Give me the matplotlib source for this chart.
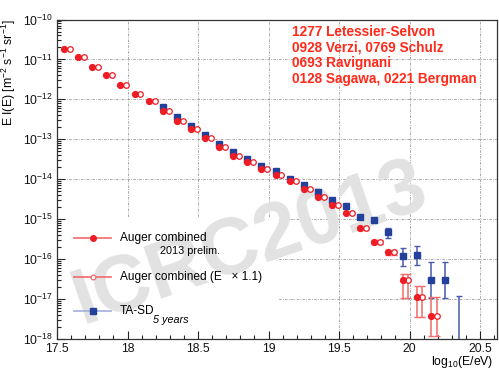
import numpy as np
import matplotlib
matplotlib.use("Agg")
import matplotlib.pyplot as plt
from matplotlib.ticker import MultipleLocator, LogLocator, NullFormatter, LogFormatterSciNotation
from matplotlib.patches import Rectangle

plt.rcParams['font.family'] = ['Liberation Sans', 'DejaVu Sans']
plt.rcParams['mathtext.fontset'] = 'custom'
plt.rcParams['mathtext.rm'] = 'Liberation Sans'
plt.rcParams['mathtext.it'] = 'Liberation Sans:italic'
plt.rcParams['mathtext.default'] = 'regular'

# Auger combined spectrum (2013 preliminary)
auger_logE = [17.55, 17.65, 17.75, 17.85, 17.95, 18.05, 18.15, 18.25, 18.35,
              18.45, 18.55, 18.65, 18.75, 18.85, 18.95, 19.05, 19.15, 19.25,
              19.35, 19.45, 19.55, 19.65, 19.75, 19.85, 19.95, 20.05, 20.15]
auger_flux = [1.86e-11, 1.16e-11, 6.6e-12, 4.0e-12, 2.35e-12, 1.35e-12, 9.3e-13,
              5.0e-13, 2.9e-13, 1.86e-13, 1.10e-13, 6.6e-14, 3.9e-14, 2.7e-14,
              1.8e-14, 1.3e-14, 8.9e-15, 5.8e-15, 3.6e-15, 2.3e-15, 1.4e-15,
              6.0e-16, 2.75e-16, 1.5e-16, 3.0e-17, 1.15e-17, 3.8e-18]
# error bars of the highest-energy bins
auger_err_logE = [19.65, 19.75, 19.85, 19.95, 20.05, 20.15]
auger_err_flux = [6.0e-16, 2.75e-16, 1.5e-16, 3.0e-17, 1.15e-17, 3.8e-18]
auger_err_lo = [5.5e-16, 2.45e-16, 1.28e-16, 1.05e-17, 3.5e-18, 1.2e-18]
auger_err_hi = [6.5e-16, 3.05e-16, 1.72e-16, 4.3e-17, 2.1e-17, 1.12e-17]
energy_scale = 1.1

# TA-SD 5 years
ta_logE = [18.25, 18.35, 18.45, 18.55, 18.65, 18.75, 18.85, 18.95, 19.05, 19.15,
           19.25, 19.35, 19.45, 19.55, 19.65, 19.75, 19.85, 19.95, 20.05, 20.15, 20.25]
ta_flux = [6.3e-13, 3.6e-13, 2.2e-13, 1.26e-13, 7.6e-14, 4.8e-14, 3.3e-14, 2.2e-14,
           1.65e-14, 1.02e-14, 7.1e-15, 4.7e-15, 3.1e-15, 2.15e-15, 1.12e-15, 9.3e-16,
           4.7e-16, 1.2e-16, 1.3e-16, 3.0e-17, 3.0e-17]
ta_err_logE = [19.65, 19.75, 19.85, 19.95, 20.05, 20.15, 20.25]
ta_err_flux = [1.12e-15, 9.3e-16, 4.7e-16, 1.2e-16, 1.3e-16, 3.0e-17, 3.0e-17]
ta_err_lo = [1.0e-15, 8.3e-16, 3.4e-16, 6.8e-17, 7.2e-17, 1.07e-17, 1.07e-17]
ta_err_hi = [1.24e-15, 1.04e-15, 6.0e-16, 1.95e-16, 2.1e-16, 8.3e-17, 8.3e-17]
# empty bin: only the upper end of the error bar
ta_ul_logE = [20.35]
ta_ul_hi = [1.17e-17]

contributions = ["1277 Letessier-Selvon", "0928 Verzi, 0769 Schulz",
                 "0693 Ravignani", "0128 Sagawa, 0221 Bergman"]

RED = '#ee1c24'
RED_LIGHT = '#f26a6a'
BLUE = '#23409a'
BLUE_BAR = '#4a5aa8'
BLUE_LIGHT = '#a5addb'

xmin, xmax = 17.5, 20.62
ymin, ymax = 1e-18, 1e-10

fig = plt.figure(figsize=(4.99, 3.72), dpi=100)
ax = fig.add_axes([57 / 499, 33 / 372, 440 / 499, 319.5 / 372])
ax.set_xlim(xmin, xmax)
ax.set_yscale('log')
ax.set_ylim(ymin, ymax)

# dashed grid on major ticks
grid_style = dict(color='#9a9a9a', lw=0.6, ls=(0, (3, 1.5, 1, 1.5)), zorder=0.4)
for xv in np.arange(18.0, 20.51, 0.5):
    ax.axvline(xv, **grid_style)
for e in range(-17, -10):
    ax.axhline(10.0 ** e, **grid_style)

# legend background
ax.add_patch(Rectangle((0, 0), 0.502, 0.378, transform=ax.transAxes,
                       facecolor='white', edgecolor='none', zorder=1.0))

# watermark
ax.text(0.455, 0.235, 'ICRC2013', transform=ax.transAxes, fontsize=57,
        fontweight='bold', color='#e2e2e2', rotation=19, rotation_mode='anchor',
        ha='center', va='baseline', zorder=1.2)

# TA-SD
ax.errorbar(ta_err_logE, ta_err_flux,
            yerr=[np.array(ta_err_flux) - np.array(ta_err_lo),
                  np.array(ta_err_hi) - np.array(ta_err_flux)],
            fmt='none', ecolor=BLUE_BAR, elinewidth=1.1, capsize=2, capthick=1.0, zorder=2.5)
ax.vlines(ta_ul_logE, ymin, ta_ul_hi, color=BLUE_BAR, lw=1.1, zorder=2.5)
ax.plot(ta_ul_logE, ta_ul_hi, ls='none', marker='_', ms=4, mew=1.0, color=BLUE_BAR, zorder=2.5)
ax.plot(ta_logE, ta_flux, ls='none', marker='s', ms=4.2, color=BLUE, mec=BLUE, zorder=3)

# Auger combined
auger_logE_scaled = np.array(auger_logE) + np.log10(energy_scale)
auger_err_logE_scaled = np.array(auger_err_logE) + np.log10(energy_scale)
yerr = [np.array(auger_err_flux) - np.array(auger_err_lo),
        np.array(auger_err_hi) - np.array(auger_err_flux)]
ax.errorbar(auger_err_logE, auger_err_flux, yerr=yerr, fmt='none', ecolor=RED_LIGHT,
            elinewidth=1.1, capsize=2, capthick=1.0, zorder=3.2)
ax.errorbar(auger_err_logE_scaled, auger_err_flux, yerr=yerr, fmt='none', ecolor=RED_LIGHT,
            elinewidth=1.1, capsize=2, capthick=1.0, zorder=3.2)
ax.plot(auger_logE_scaled, auger_flux, ls='none', marker='o', ms=4.0, mfc='white',
        mec=RED, mew=0.9, zorder=3.4)
ax.plot(auger_logE, auger_flux, ls='none', marker='o', ms=4.2, color=RED, zorder=3.5)

# legend entries
lx = [0.0386, 0.1227]
mx = 0.0818
tx = 0.143
rows = [0.3152, 0.195, 0.0886]
ax.plot(lx, [rows[0]] * 2, color=RED_LIGHT, lw=1.2, transform=ax.transAxes, zorder=4)
ax.plot([mx], [rows[0]], marker='o', ms=4.0, color=RED, transform=ax.transAxes, zorder=4.1)
ax.plot(lx, [rows[1]] * 2, color=RED_LIGHT, lw=1.2, transform=ax.transAxes, zorder=4)
ax.plot([mx], [rows[1]], marker='o', ms=3.4, mfc='white', mec=RED_LIGHT, mew=0.9,
        transform=ax.transAxes, zorder=4.1)
ax.plot(lx, [rows[2]] * 2, color=BLUE_LIGHT, lw=1.2, transform=ax.transAxes, zorder=4)
ax.plot([mx], [rows[2]], marker='s', ms=3.8, color=BLUE, transform=ax.transAxes, zorder=4.1)

lfs = 8.6
ax.text(tx, rows[0], 'Auger combined', transform=ax.transAxes, fontsize=lfs,
        va='center', ha='left', zorder=4)
ax.text(0.234, 0.2754, '2013 prelim.', transform=ax.transAxes, fontsize=7.8,
        va='center', ha='left', zorder=4)
ax.text(tx, rows[1], 'Auger combined (E   \u00d7 1.1)', transform=ax.transAxes,
        fontsize=lfs, va='center', ha='left', zorder=4)
ax.text(tx, rows[2], 'TA-SD', transform=ax.transAxes, fontsize=lfs,
        va='center', ha='left', zorder=4)
ax.text(0.2175, 0.0595, '5 years', transform=ax.transAxes, fontsize=7.8,
        style='italic', va='center', ha='left', zorder=4)

# contribution list
for i, line in enumerate(contributions):
    fig.text(292.5 / 499, 1 - (31.7 + 15.7 * i) / 372, line, fontsize=9.8,
             fontweight='bold', color='#ff2a1a', va='center', ha='left')

# axes, ticks
ax.xaxis.set_major_locator(MultipleLocator(0.5))
ax.xaxis.set_minor_locator(MultipleLocator(0.1))
ax.yaxis.set_major_locator(LogLocator(base=10, numticks=20))
ax.yaxis.set_minor_locator(LogLocator(base=10, subs=np.arange(2, 10), numticks=20))
ax.yaxis.set_minor_formatter(NullFormatter())
ax.yaxis.set_major_formatter(LogFormatterSciNotation())
ax.set_xticks(np.arange(17.5, 20.51, 0.5))
ax.set_xticklabels(['17.5', '18', '18.5', '19', '19.5', '20', '20.5'])
ax.tick_params(axis='both', which='both', direction='in', top=False, right=False,
               colors='#222222', labelcolor='#111111', width=0.8)
ax.tick_params(axis='both', which='major', length=6, labelsize=8.8, pad=3)
ax.tick_params(axis='both', which='minor', length=3)
ax.set_xlim(xmin, xmax)

for sp in ax.spines.values():
    sp.set_color('#333333')
    sp.set_linewidth(0.9)

ax.set_ylabel(r'E I(E) [m$^{-2}$ s$^{-1}$ sr$^{-1}$]', fontsize=8.8, loc='top')
ax.yaxis.set_label_coords(-0.088, 1.0)
ax.set_xlabel(r'log$_{10}$(E/eV)', fontsize=8.8, loc='right')
ax.xaxis.set_label_coords(0.992, -0.047)

fig.savefig('out.png', dpi=100)
